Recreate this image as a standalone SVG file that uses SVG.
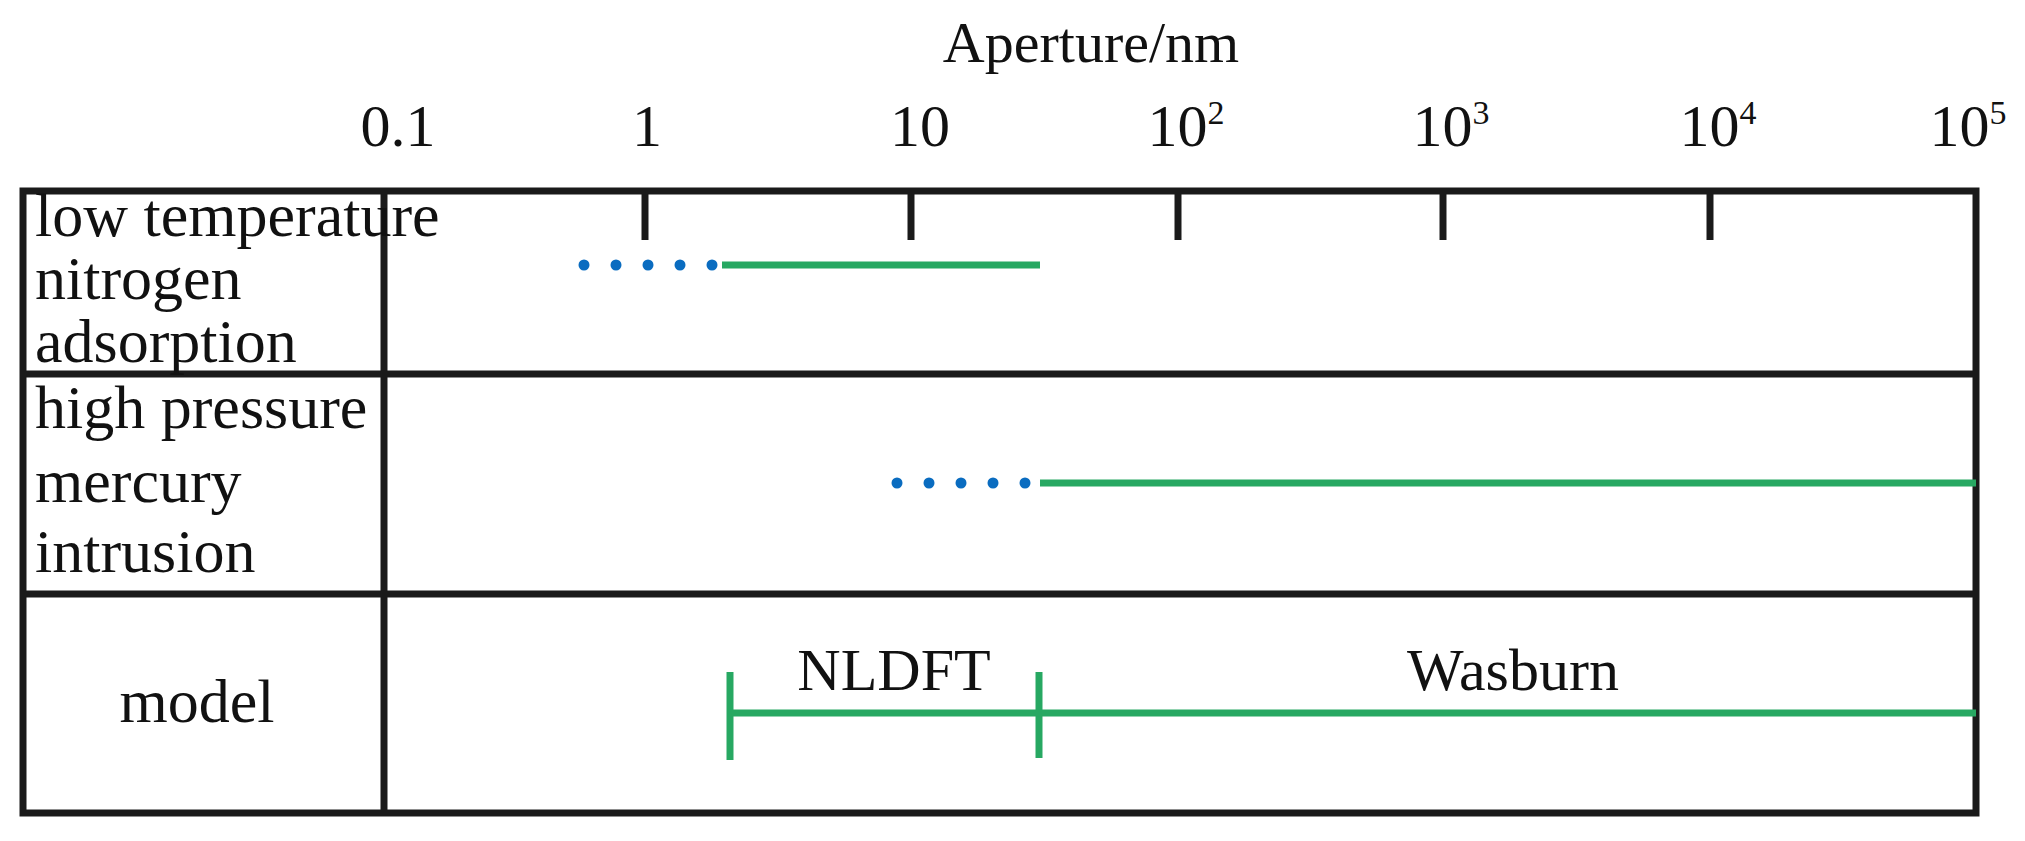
<svg xmlns="http://www.w3.org/2000/svg" width="2025" height="841" viewBox="0 0 2025 841">
<style>
text{font-family:"Liberation Serif","DejaVu Serif","Times New Roman",serif;fill:#111}
.t{font-size:62px}
.k{font-size:60px;text-anchor:middle}
.s{font-size:34px}
.b{stroke:#1a1a1a;stroke-width:7;fill:none}
.g{stroke:#27a862;stroke-width:7;fill:none}
.d{fill:#0a6cc0}
</style>
<rect width="2025" height="841" fill="#fff"/>
<g id="axis">
<text x="1091" y="62" style="font-size:58px;text-anchor:middle">Aperture/nm</text>
<text x="398" y="146" class="k">0.1</text>
<text x="647" y="146" class="k">1</text>
<text x="920" y="146" class="k">10</text>
<text x="1186" y="146" class="k">10<tspan class="s" dy="-22">2</tspan></text>
<text x="1451" y="146" class="k">10<tspan class="s" dy="-22">3</tspan></text>
<text x="1718" y="146" class="k">10<tspan class="s" dy="-22">4</tspan></text>
<text x="1968" y="146" class="k">10<tspan class="s" dy="-22">5</tspan></text>
</g>
<g id="table">
<rect x="23" y="191" width="1953" height="622" class="b"/>
<line x1="384" y1="191" x2="384" y2="813" class="b"/>
<line x1="23" y1="374" x2="1976" y2="374" class="b"/>
<line x1="23" y1="594" x2="1976" y2="594" class="b"/>
<g class="b" stroke-width="6">
<line x1="645" y1="191" x2="645" y2="240"/>
<line x1="911" y1="191" x2="911" y2="240"/>
<line x1="1178" y1="191" x2="1178" y2="240"/>
<line x1="1443" y1="191" x2="1443" y2="240"/>
<line x1="1710" y1="191" x2="1710" y2="240"/>
</g>
</g>
<g id="row-nitrogen">
<text x="35" y="236" class="t">low temperature</text>
<text x="35" y="299" class="t">nitrogen</text>
<text x="35" y="362" class="t">adsorption</text>
<g class="d"><circle cx="584" cy="265" r="5.5"/><circle cx="616" cy="265" r="5.5"/><circle cx="648" cy="265" r="5.5"/><circle cx="680" cy="265" r="5.5"/><circle cx="712" cy="265" r="5.5"/></g>
<line x1="722" y1="265" x2="1040" y2="265" class="g"/>
</g>
<g id="row-mercury">
<text x="35" y="428" class="t">high pressure</text>
<text x="35" y="502" class="t">mercury</text>
<text x="35" y="572" class="t">intrusion</text>
<g class="d"><circle cx="897" cy="483" r="5.5"/><circle cx="929" cy="483" r="5.5"/><circle cx="961" cy="483" r="5.5"/><circle cx="993" cy="483" r="5.5"/><circle cx="1025" cy="483" r="5.5"/></g>
<line x1="1040" y1="483" x2="1976" y2="483" class="g"/>
</g>
<g id="row-model">
<text x="197" y="722" class="t" text-anchor="middle">model</text>
<text x="894" y="690" class="k">NLDFT</text>
<text x="1513" y="690" class="k">Wasburn</text>
<line x1="730" y1="672" x2="730" y2="760" class="g" stroke-width="6"/>
<line x1="1039" y1="672" x2="1039" y2="758" class="g" stroke-width="6"/>
<line x1="730" y1="713" x2="1976" y2="713" class="g"/>
</g>
</svg>
